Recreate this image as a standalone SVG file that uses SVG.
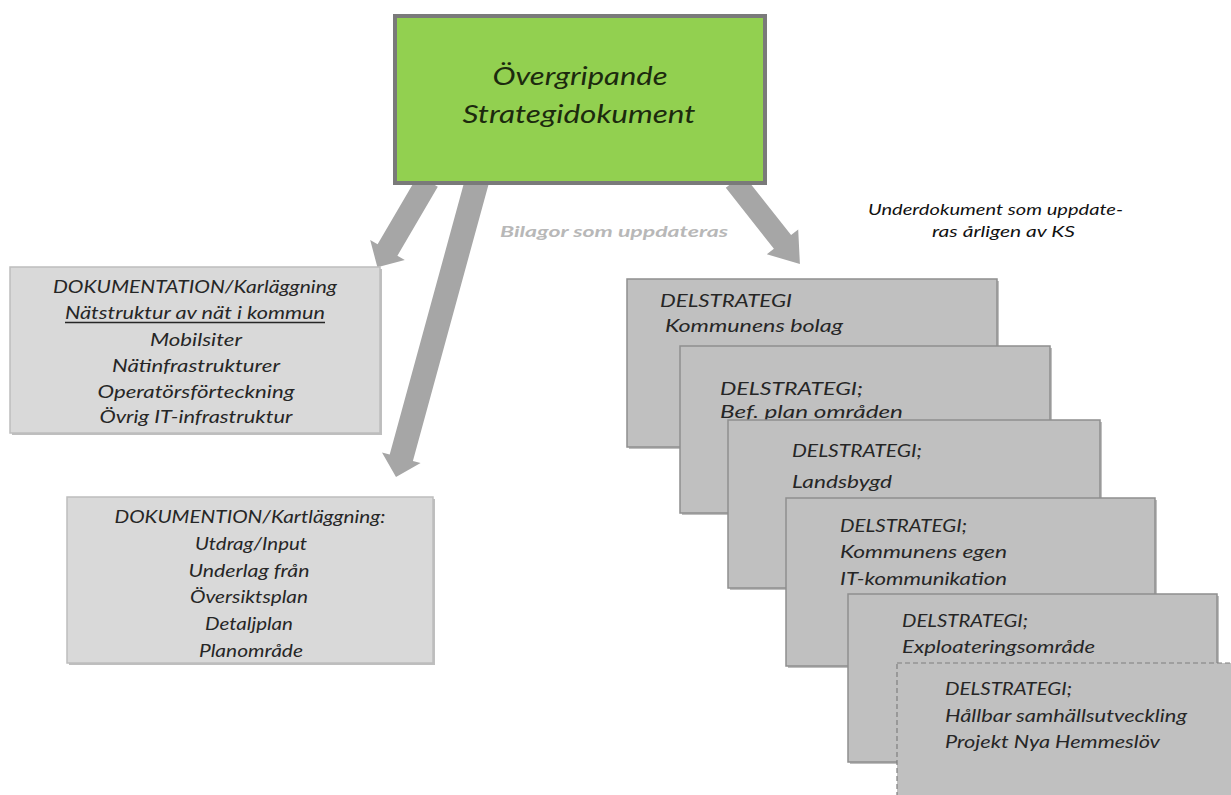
<svg xmlns="http://www.w3.org/2000/svg" width="1231" height="795" viewBox="0 0 1231 795">
<style>
text{font-family:Lato,"Open Sans","Liberation Sans",sans-serif;font-style:italic;fill:#262626;font-size:17px}
.ttl{font-size:25px;fill:#1c2a0e}
.ctr{text-anchor:middle}
.arrow{fill:#a6a6a6}
.sh{fill:#8a8a8a;opacity:.55}
.lbox{fill:#d9d9d9;stroke:#bdbdbd;stroke-width:1.5}
.sbox{fill:#c0c0c0;stroke:#8f8f8f;stroke-width:1.5}
.note{font-size:15px;fill:#111}
.bil{font-size:15px;font-weight:bold;fill:#b8b8b8}
</style>
<rect width="1231" height="795" fill="#fff"/>
<g id="connectors">
<polygon class="arrow" points="418.0,175.2 437.8,186.8 397.4,255.8 404.8,260.1 377.4,267.3 370.2,239.9 377.6,244.2"/>
<polygon class="arrow" points="465.4,177.8 488.6,184.2 412.9,460.9 420.6,463.0 396,477 382.0,452.4 389.7,454.5"/>
<polygon class="arrow" points="725.8,187.8 743.0,174.2 791.1,235.1 798.2,229.5 799.9,263.9 766.8,254.3 773.9,248.7"/>
</g>
<g id="main">
<rect x="395" y="16" width="370" height="167" fill="#92d050" stroke="#7a7a7a" stroke-width="4"/>
<text class="ttl ctr" x="580" y="85" textLength="175" lengthAdjust="spacingAndGlyphs">Övergripande</text>
<text class="ttl ctr" x="579" y="123" textLength="233" lengthAdjust="spacingAndGlyphs">Strategidokument</text>
</g>
<text class="bil" x="500" y="237" textLength="228" lengthAdjust="spacingAndGlyphs">Bilagor som uppdateras</text>
<g id="note">
<text class="note" x="868" y="215" textLength="255" lengthAdjust="spacingAndGlyphs">Underdokument som uppdate-</text>
<text class="note" x="932" y="237" textLength="143" lengthAdjust="spacingAndGlyphs">ras  årligen av KS</text>
</g>
<g id="doc1">
<rect class="sh" x="12" y="269" width="370" height="166"/>
<rect class="lbox" x="10" y="267" width="370" height="166"/>
<text class="ctr" x="195" y="293" textLength="284" lengthAdjust="spacingAndGlyphs">DOKUMENTATION/Karläggning</text>
<text class="ctr" x="195" y="319" textLength="260" lengthAdjust="spacingAndGlyphs">Nätstruktur av nät i kommun</text>
<line x1="65" y1="322.5" x2="325" y2="322.5" stroke="#262626" stroke-width="1.3"/>
<text class="ctr" x="196" y="346" textLength="92" lengthAdjust="spacingAndGlyphs">Mobilsiter</text>
<text class="ctr" x="196" y="372" textLength="168" lengthAdjust="spacingAndGlyphs">Nätinfrastrukturer</text>
<text class="ctr" x="196" y="398" textLength="197" lengthAdjust="spacingAndGlyphs">Operatörsförteckning</text>
<text class="ctr" x="196" y="423" textLength="193" lengthAdjust="spacingAndGlyphs">Övrig IT-infrastruktur</text>
</g>
<g id="doc2">
<rect class="sh" x="69" y="499" width="366" height="166"/>
<rect class="lbox" x="67" y="497" width="366" height="166"/>
<text class="ctr" x="250" y="523" textLength="271" lengthAdjust="spacingAndGlyphs">DOKUMENTION/Kartläggning:</text>
<text class="ctr" x="251" y="550" textLength="112" lengthAdjust="spacingAndGlyphs">Utdrag/Input</text>
<text class="ctr" x="249" y="577" textLength="121" lengthAdjust="spacingAndGlyphs">Underlag från</text>
<text class="ctr" x="249" y="603" textLength="118" lengthAdjust="spacingAndGlyphs">Översiktsplan</text>
<text class="ctr" x="249" y="630" textLength="88" lengthAdjust="spacingAndGlyphs">Detaljplan</text>
<text class="ctr" x="251" y="657" textLength="104" lengthAdjust="spacingAndGlyphs">Planområde</text>
</g>
<g id="s1">
<rect class="sh" x="629" y="281" width="370" height="168"/>
<rect class="sbox" x="627" y="279" width="370" height="168"/>
<text x="660" y="307" textLength="132" lengthAdjust="spacingAndGlyphs">DELSTRATEGI</text>
<text x="665" y="332" textLength="178" lengthAdjust="spacingAndGlyphs">Kommunens bolag</text>
</g>
<g id="s2">
<rect class="sh" x="682" y="348" width="370" height="167"/>
<rect class="sbox" x="680" y="346" width="370" height="167"/>
<text x="720" y="395" textLength="143" lengthAdjust="spacingAndGlyphs">DELSTRATEGI;</text>
<text x="720" y="418" textLength="183" lengthAdjust="spacingAndGlyphs">Bef. plan områden</text>
</g>
<g id="s3">
<rect class="sh" x="730" y="422" width="372" height="168"/>
<rect class="sbox" x="728" y="420" width="372" height="168"/>
<text x="792" y="457" textLength="130" lengthAdjust="spacingAndGlyphs">DELSTRATEGI;</text>
<text x="792" y="488" textLength="100" lengthAdjust="spacingAndGlyphs">Landsbygd</text>
</g>
<g id="s4">
<rect class="sh" x="788" y="500" width="369" height="168"/>
<rect class="sbox" x="786" y="498" width="369" height="168"/>
<text x="840" y="532" textLength="127" lengthAdjust="spacingAndGlyphs">DELSTRATEGI;</text>
<text x="840" y="558" textLength="167" lengthAdjust="spacingAndGlyphs">Kommunens egen</text>
<text x="840" y="585" textLength="167" lengthAdjust="spacingAndGlyphs">IT-kommunikation</text>
</g>
<g id="s5">
<rect class="sh" x="850" y="596" width="369" height="168"/>
<rect class="sbox" x="848" y="594" width="369" height="168"/>
<text x="902" y="627" textLength="126" lengthAdjust="spacingAndGlyphs">DELSTRATEGI;</text>
<text x="902" y="653" textLength="193" lengthAdjust="spacingAndGlyphs">Exploateringsområde</text>
</g>
<g id="s6">
<rect x="897" y="663" width="345" height="150" fill="#c0c0c0" stroke="#7f7f7f" stroke-width="1.2" stroke-dasharray="5 3"/>
<text x="945" y="695" textLength="127" lengthAdjust="spacingAndGlyphs">DELSTRATEGI;</text>
<text x="945" y="722" textLength="242" lengthAdjust="spacingAndGlyphs">Hållbar samhällsutveckling</text>
<text x="945" y="748" textLength="215" lengthAdjust="spacingAndGlyphs">Projekt Nya Hemmeslöv</text>
</g>
</svg>
